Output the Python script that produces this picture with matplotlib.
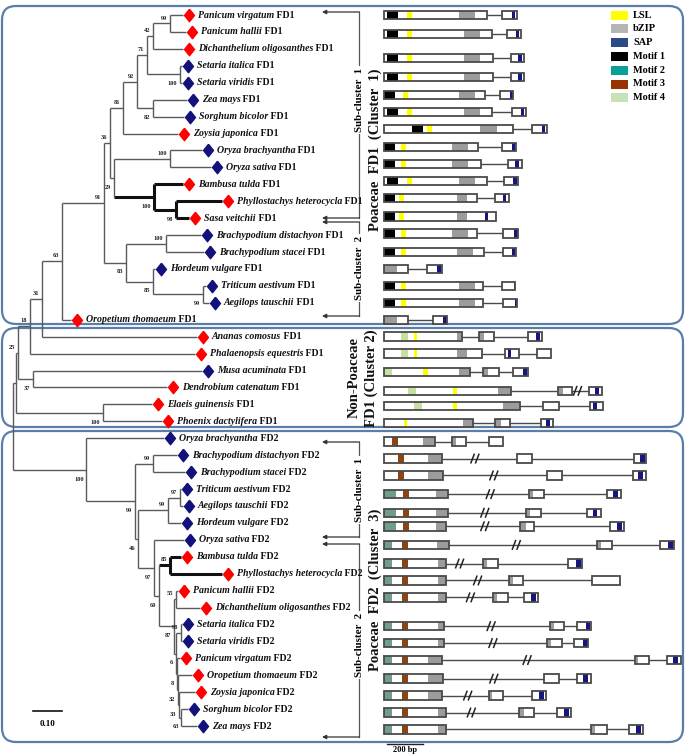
import re
import matplotlib
matplotlib.use("Agg")
import matplotlib.pyplot as plt
from matplotlib.patches import Rectangle, FancyBboxPatch
from matplotlib.path import Path

plt.rcParams['font.family'] = ['Liberation Serif', 'DejaVu Serif']

# ---------------- data ----------------
species = [
    "Panicum virgatum", "Panicum hallii", "Dichanthelium oligosanthes", "Setaria italica",
    "Setaria viridis", "Zea mays", "Sorghum bicolor", "Zoysia japonica", "Oryza brachyantha",
    "Oryza sativa", "Bambusa tulda", "Phyllostachys heterocycla", "Sasa veitchii",
    "Brachypodium distachyon", "Brachypodium stacei", "Hordeum vulgare", "Triticum aestivum",
    "Aegilops tauschii", "Oropetium thomaeum",
    "Ananas comosus", "Phalaenopsis equestris", "Musa acuminata", "Dendrobium catenatum",
    "Elaeis guinensis", "Phoenix dactylifera",
    "Oryza brachyantha", "Brachypodium distachyon", "Brachypodium stacei", "Triticum aestivum",
    "Aegilops tauschii", "Hordeum vulgare", "Oryza sativa", "Bambusa tulda",
    "Phyllostachys heterocycla", "Panicum hallii", "Dichanthelium oligosanthes", "Setaria italica",
    "Setaria viridis", "Panicum virgatum", "Oropetium thomaeum", "Zoysia japonica",
    "Sorghum bicolor", "Zea mays",
]
gene_tag = ["FD1"] * 25 + ["FD2"] * 18
# r = red diamond, b = blue diamond
marker_kind = "rrrbbbbrbbrrrbbbbbr" + "rrbrrr" + "bbbbbbbrrrrbbrrrbb"
bamboo = {10, 11, 12, 32, 33}

# leaves are numbered by row; branch lengths in substitutions/site, bootstrap as node label
tree_nwk = (
    "(((((((((((((0:0.045,1:0.055)99:0.059,2:0.103)42:0.021,(3:0.007,4:0.007)100:0.114)71:0.034,"
    "(5:0.117,6:0.107)82:0.055)92:0.048,7:0.190)81:0.045,"
    "((8:0.110,9:0.141)100:0.193,(10:0.100,(11:0.159,12:0.045)98:0.076)100:0.138)29:0.014)36:0.021,"
    "((13:0.121,14:0.131)100:0.138,(15:0.007,(16:0.010,17:0.021)99:0.172)85:0.093)83:0.076)91:0.145,"
    "18:0.031)63:0.069,19:0.534)31:0.041,20:0.569)18:0.041,(21:0.583,22:0.462)37:0.052)25:0.007,"
    "(23:0.169,24:0.203)100:0.300):0.010,"
    "(25:0.269,((26:0.083,27:0.110)99:0.062,(((28:0.003,29:0.010)97:0.041,30:0.045)99:0.103,"
    "(31:0.103,((32:0.038,33:0.179)85:0.038,((34:0.007,35:0.083)55:0.007,((36:0.003,37:0.003)98:0.017,"
    "(38:0.010,(39:0.048,(40:0.055,(41:0.021,42:0.055)63:0.010)33:0.003)32:0.003)8:0.003)6:0.007)87:0.052)"
    "60:0.017)97:0.055)46:0.010)99:0.169)100:0.252);"
)

# gene structures (bp), one entry per drawn row
gene_rows = [0, 1.12, 2.54, 3.66, 4.73, 5.73, 6.73, 7.8, 8.8, 9.8, 10.8, 11.9, 12.9, 14.0, 15.0,
             16.0, 17.0, 18.0,
             19.0, 20.0, 21.1, 22.2, 23.1, 24.1,
             25.2, 26.2, 27.2, 28.3, 29.4, 30.2, 31.3, 32.4, 33.4, 34.4, 36.1, 37.1, 38.1, 39.2,
             40.2, 41.2, 42.2]
gene_exons = [
    [(0, 570), (655, 740)], [(0, 600), (685, 760)], [(0, 605), (705, 780)], [(0, 605), (705, 780)],
    [(0, 560), (645, 715)], [(0, 600), (710, 790)], [(0, 715), (820, 905)], [(0, 520), (655, 735)],
    [(0, 540), (690, 765)], [(0, 570), (665, 745)], [(0, 515), (615, 695)], [(0, 620)],
    [(0, 515), (660, 745)], [(0, 555), (660, 735)], [(0, 135), (240, 320)], [(0, 550), (655, 730)],
    [(0, 550), (660, 740)], [(0, 135), (270, 350)],
    [(0, 435), (530, 610), (800, 880)], [(0, 545), (670, 750), (850, 930)],
    [(0, 480), (550, 640), (715, 800)], [(0, 705), (965, 1045), (1140, 1210)],
    [(0, 755), (885, 970), (1145, 1215)], [(0, 495), (615, 700), (870, 940)],
    [(0, 285), (380, 455), (585, 660)], [(0, 320), (740, 820), (1390, 1455)],
    [(0, 330), (905, 990), (1385, 1455)], [(0, 355), (805, 890), (1240, 1315)],
    [(0, 355), (790, 870), (1130, 1205)], [(0, 345), (755, 835), (1255, 1335)],
    [(0, 360), (1185, 1265), (1535, 1610)], [(0, 345), (550, 635), (1020, 1100)],
    [(0, 345), (695, 770), (1155, 1310)], [(0, 345), (605, 690), (780, 855)],
    [(0, 335), (920, 1000), (1070, 1150)], [(0, 335), (905, 990), (1055, 1135)],
    [(0, 320), (1395, 1470), (1570, 1650)], [(0, 330), (890, 970), (1070, 1150)],
    [(0, 320), (585, 660), (820, 900)], [(0, 345), (750, 835), (960, 1040)],
    [(0, 345), (1150, 1240), (1360, 1440)],
]
gene_feats = [
    [(15, 80, 'M1'), (130, 155, 'LSL'), (415, 505, 'bZIP'), (710, 730, 'SAP')],
    [(15, 80, 'M1'), (130, 155, 'LSL'), (445, 535, 'bZIP'), (735, 750, 'SAP')],
    [(15, 80, 'M1'), (130, 155, 'LSL'), (445, 535, 'bZIP'), (745, 765, 'SAP')],
    [(15, 80, 'M1'), (130, 155, 'LSL'), (445, 535, 'bZIP'), (745, 765, 'SAP')],
    [(0, 60, 'M1'), (105, 135, 'LSL'), (415, 505, 'bZIP'), (700, 715, 'SAP')],
    [(15, 80, 'M1'), (130, 155, 'LSL'), (445, 535, 'bZIP'), (760, 775, 'SAP')],
    [(155, 215, 'M1'), (240, 265, 'LSL'), (535, 630, 'bZIP'), (880, 895, 'SAP')],
    [(0, 60, 'M1'), (95, 120, 'LSL'), (380, 465, 'bZIP'), (710, 730, 'SAP')],
    [(0, 60, 'M1'), (95, 120, 'LSL'), (380, 465, 'bZIP'), (730, 750, 'SAP')],
    [(15, 80, 'M1'), (130, 155, 'LSL'), (415, 505, 'bZIP'), (715, 740, 'SAP')],
    [(0, 60, 'M1'), (85, 110, 'LSL'), (405, 460, 'bZIP'), (660, 680, 'SAP')],
    [(0, 60, 'M1'), (85, 110, 'LSL'), (405, 460, 'bZIP'), (560, 580, 'SAP')],
    [(0, 60, 'M1'), (95, 120, 'LSL'), (380, 465, 'bZIP'), (720, 745, 'SAP')],
    [(0, 60, 'M1'), (95, 120, 'LSL'), (405, 495, 'bZIP'), (710, 730, 'SAP')],
    [(0, 70, 'bZIP'), (295, 315, 'SAP')],
    [(0, 60, 'M1'), (95, 120, 'LSL'), (415, 505, 'bZIP'), (720, 730, 'SAP')],
    [(0, 60, 'M1'), (95, 120, 'LSL'), (415, 505, 'bZIP'), (725, 740, 'SAP')],
    [(0, 70, 'bZIP'), (330, 350, 'SAP')],
    [(95, 135, 'M4'), (165, 185, 'LSL'), (405, 435, 'bZIP'), (530, 555, 'bZIP'), (845, 865, 'SAP')],
    [(95, 135, 'M4'), (165, 185, 'LSL'), (405, 460, 'bZIP'), (690, 705, 'SAP')],
    [(0, 45, 'M4'), (215, 245, 'LSL'), (415, 480, 'bZIP'), (550, 580, 'bZIP'), (770, 795, 'SAP')],
    [(135, 180, 'M4'), (385, 405, 'LSL'), (635, 705, 'bZIP'), (965, 995, 'bZIP'), (1170, 1195, 'SAP')],
    [(165, 210, 'M4'), (385, 405, 'LSL'), (660, 755, 'bZIP'), (1160, 1185, 'SAP')],
    [(110, 130, 'LSL'), (440, 495, 'bZIP'), (615, 650, 'bZIP'), (900, 920, 'SAP')],
    [(45, 80, 'M3'), (215, 285, 'bZIP'), (380, 400, 'bZIP')],
    [(80, 110, 'M3'), (245, 320, 'bZIP'), (1420, 1450, 'SAP')],
    [(80, 110, 'M3'), (245, 330, 'bZIP'), (1410, 1440, 'SAP')],
    [(0, 65, 'M2'), (105, 140, 'M3'), (290, 355, 'bZIP'), (805, 830, 'bZIP'), (1270, 1300, 'SAP')],
    [(0, 65, 'M2'), (105, 140, 'M3'), (290, 355, 'bZIP'), (790, 810, 'bZIP'), (1160, 1185, 'SAP')],
    [(0, 65, 'M2'), (105, 140, 'M3'), (290, 345, 'bZIP'), (755, 790, 'bZIP'), (1295, 1320, 'SAP')],
    [(0, 45, 'M2'), (100, 135, 'M3'), (295, 360, 'bZIP'), (1185, 1205, 'bZIP'), (1580, 1605, 'SAP')],
    [(0, 45, 'M2'), (100, 135, 'M3'), (300, 345, 'bZIP'), (550, 570, 'bZIP'), (1065, 1095, 'SAP')],
    [(0, 45, 'M2'), (100, 135, 'M3'), (300, 345, 'bZIP'), (695, 715, 'bZIP')],
    [(0, 45, 'M2'), (100, 135, 'M3'), (300, 345, 'bZIP'), (605, 625, 'bZIP'), (815, 845, 'SAP')],
    [(0, 45, 'M2'), (100, 135, 'M3'), (300, 335, 'bZIP'), (920, 945, 'bZIP'), (1120, 1145, 'SAP')],
    [(0, 45, 'M2'), (100, 135, 'M3'), (300, 335, 'bZIP'), (905, 930, 'bZIP'), (1105, 1135, 'SAP')],
    [(0, 45, 'M2'), (100, 135, 'M3'), (245, 320, 'bZIP'), (1395, 1410, 'bZIP'), (1605, 1635, 'SAP')],
    [(0, 45, 'M2'), (100, 135, 'M3'), (245, 330, 'bZIP'), (1105, 1135, 'SAP')],
    [(0, 45, 'M2'), (100, 135, 'M3'), (245, 320, 'bZIP'), (585, 600, 'bZIP'), (860, 890, 'SAP')],
    [(0, 45, 'M2'), (100, 135, 'M3'), (300, 345, 'bZIP'), (750, 775, 'bZIP'), (1000, 1030, 'SAP')],
    [(0, 45, 'M2'), (100, 135, 'M3'), (300, 345, 'bZIP'), (1150, 1170, 'bZIP'), (1400, 1430, 'SAP')],
]
gene_breaks = [[]] * 18 + [[], [], [], [1075], [], []] + [
    [], [505], [610], [590], [560], [560], [735], [420], [520], [480], [595], [605], [795], [610],
    [465], [485], []]

legend_labels = ['LSL', 'bZIP', 'SAP', 'Motif 1', 'Motif 2', 'Motif 3', 'Motif 4']
legend_colors = ['#ffff00', '#b4b4b4', '#2b4a86', '#000000', '#0aa09a', '#993300', '#c6e2b8']
feat_colors = {'LSL': '#ffff00', 'bZIP': '#9c9c9c', 'SAP': '#16167e', 'M1': '#000000',
               'M2': '#6f9f88', 'M3': '#8b4513', 'M4': '#c5e0a2'}


# ---------------- tree parsing / layout ----------------
def parse(s):
    pos = 0

    def node():
        nonlocal pos
        kids = []
        if s[pos] == '(':
            pos += 1
            kids.append(node())
            while s[pos] == ',':
                pos += 1
                kids.append(node())
            pos += 1
        m = re.match(r'([^:,();]*)(?::([\d.]+))?', s[pos:])
        pos += m.end()
        return {'label': m.group(1), 'bl': float(m.group(2) or 0), 'kids': kids}

    return node()


def layout(n, x0):
    n['x'] = x0 + n['bl']
    if not n['kids']:
        n['leaf'] = int(n['label'])
        n['y'] = n['leaf']
        n['leaves'] = {n['leaf']}
        return
    for k in n['kids']:
        layout(k, n['x'])
    n['y'] = (n['kids'][0]['y'] + n['kids'][-1]['y']) / 2
    n['leaves'] = set().union(*(k['leaves'] for k in n['kids']))


root = parse(tree_nwk)
layout(root, 0.0)

# ---------------- figure ----------------
PX = 290.0          # px per substitution unit (scale bar 0.10)
ROW = 16.93         # px per row
Y0 = 15.0           # px of first row
GX0, BPPX = 384.0, 0.18   # gene start px, px per bp

fig = plt.figure(figsize=(6.85, 7.55), dpi=100)
bg = fig.add_axes([0, 0, 1, 1])
bg.set_xlim(0, 685)
bg.set_ylim(755, 0)
ylim = ((755 - Y0) / ROW, -Y0 / ROW)
axT = fig.add_axes([0, 0, 1, 1])
axT.set_xlim(-13 / PX, 672 / PX)
axT.set_ylim(*ylim)
axG = fig.add_axes([0, 0, 1, 1])
axG.set_xlim(-GX0 / BPPX, (685 - GX0) / BPPX)
axG.set_ylim(*ylim)
for a in (bg, axT, axG):
    a.axis('off')
    a.patch.set_visible(False)

# panels
frame_col = '#5a7eaa'
for (y0, y1) in [(6, 324), (328, 427), (431, 742)]:
    bg.add_patch(FancyBboxPatch((2, y0), 681, y1 - y0, boxstyle="round,pad=0,rounding_size=14",
                                fc='none', ec=frame_col, lw=1.6, zorder=0))


def draw(n):
    bold_v = n['leaves'] <= bamboo
    for i, k in enumerate(n['kids']):
        bold = k['leaves'] <= bamboo
        axT.plot([n['x'], k['x']], [k['y'], k['y']], color='#111111' if bold else '#5a5a5a',
                 lw=2.2 if bold else 1.0, solid_capstyle='butt', zorder=2)
        draw(k)
        if k['kids'] and k['label']:
            dy = -0.32 if i == 0 else 0.55
            axT.text(k['x'] - 2.5 / PX, k['y'] + dy, k['label'], ha='right', va='center',
                     fontsize=4.6, fontweight='bold', color='#222222')
    if n['kids']:
        axT.plot([n['x'], n['x']], [n['kids'][0]['y'], n['kids'][-1]['y']],
                 color='#111111' if bold_v else '#5a5a5a', lw=2.2 if bold_v else 1.0,
                 solid_capstyle='butt', zorder=2)
    else:
        i = n['leaf']
        col = '#ff0000' if marker_kind[i] == 'r' else '#12127a'
        diamond = Path([(0, 1), (0.8, 0), (0, -1), (-0.8, 0), (0, 1)])
        axT.plot(n['x'] + 6 / PX, n['y'], marker=diamond, ms=9, color=col, mec=col, zorder=3)
        t = axT.text(n['x'] + 15 / PX, n['y'], species[i], fontsize=7.1, fontstyle='italic',
                     fontweight='bold', va='center', ha='left', color='#111111')
        axT.annotate(' ' + gene_tag[i], xy=(1, 0.5), xycoords=t, va='center', ha='left',
                     fontsize=7.1, fontweight='bold', color='#111111')


draw(root)

# tree scale bar
axT.plot([20 / PX, 20 / PX + 0.10], [(711 - Y0) / ROW] * 2, color='#111111', lw=1.2)
axT.text(20 / PX + 0.05, (724 - Y0) / ROW, '0.10', ha='center', va='center', fontsize=6.5,
         fontweight='bold')

# gene structures
H = 0.5
for y, exons, feats, breaks in zip(gene_rows, gene_exons, gene_feats, gene_breaks):
    for (a, b), (c, d) in zip(exons[:-1], exons[1:]):
        axG.plot([b, c], [y, y], color='#4a4a4a', lw=1.0, zorder=1)
    for s, e in exons:
        axG.add_patch(Rectangle((s, y - H / 2), e - s, H, fc='white', ec='none', zorder=2))
    for s, e, k in feats:
        axG.add_patch(Rectangle((s, y - H / 2), e - s, H, fc=feat_colors[k], ec='none', zorder=3))
    for s, e in exons:
        axG.add_patch(Rectangle((s, y - H / 2), e - s, H, fc='none', ec='#4a4a4a', lw=1.3, zorder=4))
    for bx in breaks:
        for off in (-13, 13):
            axG.plot([bx + off - 9, bx + off + 9], [y + 0.25, y - 0.25], color='#222222', lw=1.1,
                     zorder=5)

# gene scale bar (200 bp)
axG.plot([15, 215], [(744 - Y0) / ROW] * 2, color='#222222', lw=1.0)
axG.text(115, (750 - Y0) / ROW, '200 bp', ha='center', va='center', fontsize=6,
         fontweight='bold')

# legend
for j, (lab, c) in enumerate(zip(legend_labels, legend_colors)):
    yy = 15 + j * 13.8
    bg.add_patch(Rectangle((611, yy - 4.5), 17, 9, fc=c, ec='none'))
    bg.text(633, yy, lab, fontsize=7.4, fontweight='bold', va='center', ha='left')


# cluster brackets
def bracket(y_top, y_bot, x=359):
    bg.plot([x, x], [y_top, y_bot], color='#555555', lw=0.9, zorder=1)
    for yy in (y_top, y_bot):
        bg.annotate('', xy=(322, yy), xytext=(x + 0.5, yy),
                    arrowprops=dict(arrowstyle='-|>', lw=0.9, color='#333333',
                                    mutation_scale=6, shrinkA=0, shrinkB=0))


bracket(12, 218)
bracket(222, 316)
bracket(442, 537)
bracket(544, 737)
box = dict(fc='white', ec='none', pad=1.5)
for yy, lab in [(100, 'Sub-cluster  1'), (268, 'Sub-cluster  2'), (490, 'Sub-cluster  1'),
                (645, 'Sub-cluster  2')]:
    bg.text(360, yy, lab, rotation=90, ha='center', va='center', fontsize=7.8,
            fontweight='bold', bbox=box, zorder=3)
for (xx, yy, lab) in [(375, 150, 'Poaceae  FD1  (Cluster  1)'), (354, 377, 'Non-Poaceae'),
                      (371, 378, 'FD1 (Cluster 2)'), (375, 590, 'Poaceae  FD2  (Cluster  3)')]:
    bg.text(xx, yy, lab, rotation=90, ha='center', va='center', fontsize=10.5,
            fontweight='bold', color='#111111')

fig.savefig('out.png', dpi=100)
